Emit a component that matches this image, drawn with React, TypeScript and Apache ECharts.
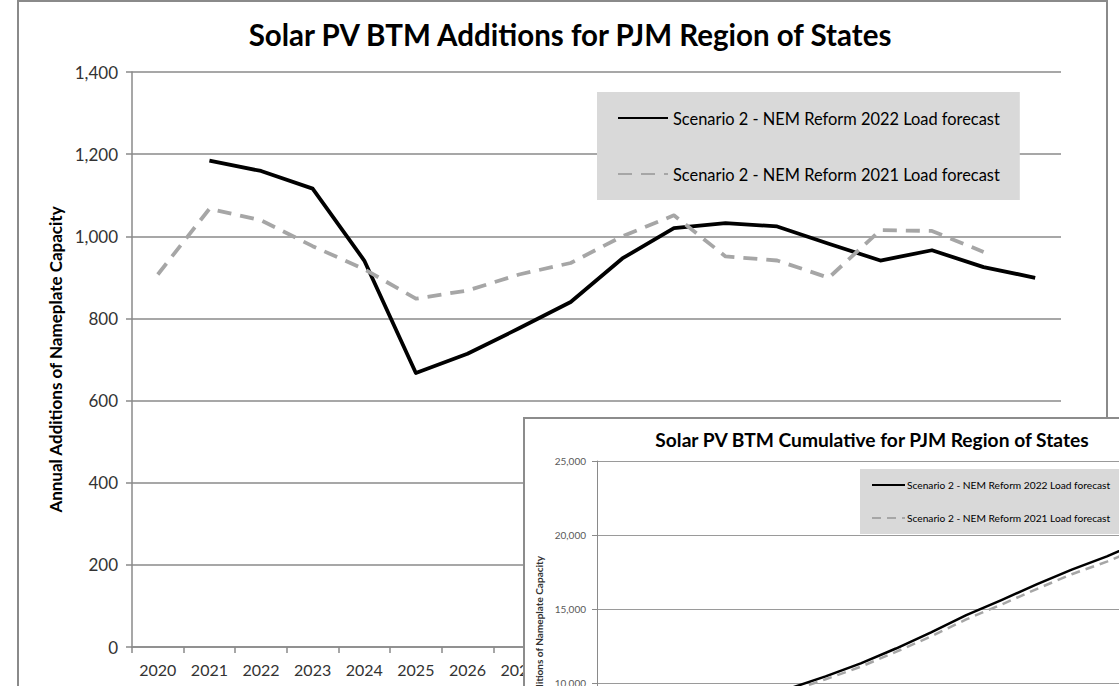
import React, { useEffect, useRef } from "react";
import * as echarts from "echarts";

const FONT = "Lato, 'Open Sans', sans-serif";
const GRID = "#8a8a8a";

const years = [
  "2020", "2021", "2022", "2023", "2024", "2025", "2026", "2027", "2028",
  "2029", "2030", "2031", "2032", "2033", "2034", "2035", "2036", "2037",
];

const NAME_2022 = "Scenario 2 - NEM Reform 2022 Load forecast";
const NAME_2021 = "Scenario 2 - NEM Reform 2021 Load forecast";

// Annual additions (main chart)
const annual2022 = [null, 1184, 1159, 1116, 941, 667, 714, 776, 840, 946, 1020, 1032, 1024, 982, 941, 966, 925, 899];
const annual2021 = [907, 1067, 1039, 976, 920, 848, 868, 907, 935, 1000, 1051, 951, 941, 899, 1015, 1013, 962, null];

// Cumulative (inset chart)
const cumulative2022 = [4700, 5900, 7050, 8150, 9000, 9650, 10450, 11330, 12330, 13420, 14580, 15600, 16660, 17660, 18560, 19600, 20550, 21450];
const cumulative2021 = [4600, 5750, 6850, 7950, 8850, 9450, 10250, 11100, 12100, 13150, 14300, 15300, 16350, 17350, 18200, 19200, 20150, null];

const mainTitle = "Solar PV BTM Additions for PJM Region of States";
const insetTitle = "Solar PV BTM Cumulative for PJM Region of States";
const yName = "Annual Additions of Nameplate Capacity";

const fmt = (v: number) => v.toLocaleString("en-US");

const mainOption: any = {
  animation: false,
  title: {
    text: mainTitle,
    left: 570,
    top: 19,
    padding: 0,
    textAlign: "center",
    textStyle: { fontFamily: FONT, fontWeight: "bold", fontSize: 29.5, color: "#000" },
  },
  legend: {
    left: 597,
    top: 92,
    orient: "vertical",
    backgroundColor: "#d9d9d9",
    padding: [18, 20, 18, 20],
    itemGap: 40,
    itemWidth: 50,
    itemHeight: 16,
    selectedMode: false,
    itemStyle: { opacity: 0 },
    textStyle: { fontFamily: FONT, fontSize: 16.4, color: "#000" },
    data: [NAME_2022, NAME_2021],
  },
  grid: { left: 132, top: 72, width: 929, height: 575 },
  xAxis: {
    type: "category",
    data: years,
    boundaryGap: true,
    axisLine: { lineStyle: { color: GRID, width: 1.5 } },
    axisTick: { show: true, length: 6, lineStyle: { color: GRID, width: 1.5 } },
    axisLabel: { interval: 0, margin: 14, fontFamily: FONT, fontSize: 16, color: "#333" },
  },
  yAxis: {
    type: "value",
    min: 0,
    max: 1400,
    interval: 200,
    name: yName,
    nameLocation: "middle",
    nameGap: 67,
    nameTextStyle: { fontFamily: FONT, fontWeight: "bold", fontSize: 17, color: "#000" },
    axisLine: { show: true, lineStyle: { color: GRID, width: 1.5 } },
    axisTick: { show: true, length: 6, lineStyle: { color: GRID, width: 1.5 } },
    splitLine: { show: true, lineStyle: { color: GRID, width: 1.5 } },
    axisLabel: { formatter: fmt, margin: 14, fontFamily: FONT, fontSize: 17, color: "#333" },
  },
  graphic: [
    {
      type: "rect",
      silent: true,
      shape: { x: 18, y: 1, width: 1089, height: 800 },
      style: { fill: "none", stroke: "#8a8a8a", lineWidth: 2 },
    },
  ],
  series: [
    {
      name: NAME_2022,
      type: "line",
      data: annual2022,
      symbol: "none",
      lineStyle: { color: "#000", width: 3.8, join: "round" },
      itemStyle: { color: "#000" },
    },
    {
      name: NAME_2021,
      type: "line",
      data: annual2021,
      symbol: "none",
      lineStyle: { color: "#a6a6a6", width: 3.8, type: [14, 9], join: "round" },
      itemStyle: { color: "#a6a6a6" },
    },
  ],
};

const insetOption: any = {
  animation: false,
  title: {
    text: insetTitle,
    left: 347,
    top: 11,
    padding: 0,
    textAlign: "center",
    textStyle: { fontFamily: FONT, fontWeight: "bold", fontSize: 19.2, color: "#000" },
  },
  legend: {
    left: 335,
    top: 50,
    orient: "vertical",
    backgroundColor: "#d9d9d9",
    padding: [11, 40, 11, 11],
    itemGap: 23,
    itemWidth: 33,
    itemHeight: 12,
    itemStyle: { opacity: 0 },
    selectedMode: false,
    textStyle: { fontFamily: FONT, fontSize: 10.2, color: "#000", padding: [0, 0, 0, -3] },
    data: [NAME_2022, NAME_2021],
  },
  grid: { left: 72, top: 42, width: 633, height: 370 },
  xAxis: {
    type: "category",
    data: years,
    boundaryGap: true,
    axisLine: { lineStyle: { color: GRID, width: 1 } },
    axisTick: { show: true, length: 4, lineStyle: { color: GRID } },
    axisLabel: { interval: 0, margin: 8, fontFamily: FONT, fontSize: 10, color: "#595959" },
  },
  yAxis: {
    type: "value",
    min: 0,
    max: 25000,
    interval: 5000,
    name: yName,
    nameLocation: "middle",
    nameGap: 44,
    nameTextStyle: { fontFamily: FONT, fontWeight: "bold", fontSize: 10, color: "#333" },
    axisLine: { show: true, lineStyle: { color: GRID, width: 1 } },
    axisTick: { show: true, length: 5, lineStyle: { color: GRID } },
    splitLine: { show: true, lineStyle: { color: "#9a9a9a", width: 1 } },
    axisLabel: { formatter: fmt, margin: 11, fontFamily: FONT, fontSize: 10, color: "#595959" },
  },
  series: [
    {
      name: NAME_2022,
      type: "line",
      data: cumulative2022,
      symbol: "none",
      lineStyle: { color: "#000", width: 2.5, join: "round" },
      itemStyle: { color: "#000" },
    },
    {
      name: NAME_2021,
      type: "line",
      data: cumulative2021,
      symbol: "none",
      lineStyle: { color: "#a6a6a6", width: 2.5, type: [9, 6], join: "round" },
      itemStyle: { color: "#a6a6a6" },
    },
  ],
};

export default function App() {
  const mainRef = useRef<HTMLDivElement>(null);
  const insetRef = useRef<HTMLDivElement>(null);

  useEffect(() => {
    const main = echarts.init(mainRef.current!, undefined, { renderer: "svg" });
    main.setOption(mainOption);
    const inset = echarts.init(insetRef.current!, undefined, { renderer: "svg" });
    inset.setOption(insetOption);
    return () => {
      main.dispose();
      inset.dispose();
    };
  }, []);

  return (
    <div
      style={{
        position: "fixed",
        left: 0,
        top: 0,
        width: 1119,
        height: 686,
        overflow: "hidden",
        background: "#fff",
      }}
    >
      <div ref={mainRef} style={{ position: "absolute", left: 0, top: 0, width: 1119, height: 686 }} />
      <div
        style={{
          position: "absolute",
          left: 523,
          top: 417,
          width: 800,
          height: 500,
          background: "#fff",
          borderLeft: "2px solid #8c8c8c",
          borderTop: "2px solid #8c8c8c",
        }}
      >
        <div ref={insetRef} style={{ position: "absolute", left: 0, top: 0, width: 798, height: 498 }} />
      </div>
    </div>
  );
}
